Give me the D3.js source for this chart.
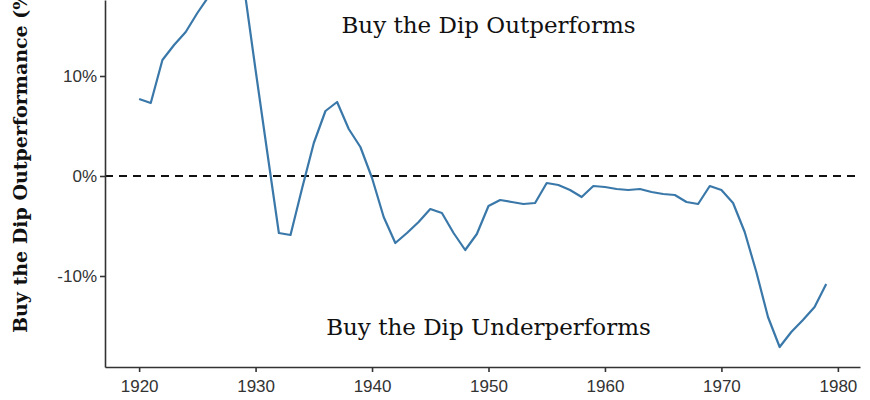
<!DOCTYPE html>
<html lang="en">
  <head>
    <meta charset="UTF-8" />
    <title>Buy the Dip</title>
    <style>
      body { margin: 0; background: #fff; }
      .tick text { font-family: "Liberation Sans", Arial, sans-serif; font-size: 17px; fill: #333; }
      .note { font-family: "DejaVu Serif", serif; font-size: 23px; fill: #111; }
      .ylab { font-family: "DejaVu Serif", serif; font-size: 19px; font-weight: bold; fill: #111; }
    </style>
  </head>
  <body>
    <script src="https://cdn.jsdelivr.net/npm/d3@7"></script>
    <script>
      // values (% outperformance by start year)
      const years = [1920, 1921, 1922, 1923, 1924, 1925, 1926, 1927, 1928, 1929,
                     1930, 1931, 1932, 1933, 1934, 1935, 1936, 1937, 1938, 1939,
                     1940, 1941, 1942, 1943, 1944, 1945, 1946, 1947, 1948, 1949,
                     1950, 1951, 1952, 1953, 1954, 1955, 1956, 1957, 1958, 1959,
                     1960, 1961, 1962, 1963, 1964, 1965, 1966, 1967, 1968, 1969,
                     1970, 1971, 1972, 1973, 1974, 1975, 1976, 1977, 1978, 1979];
      const outperf = [7.7, 7.3, 11.6, 13.1, 14.4, 16.3, 18.0, 20.5, 21.5, 19.0,
                       10.6, 2.4, -5.7, -5.9, -1.2, 3.3, 6.5, 7.4, 4.7, 2.9,
                       -0.2, -4.1, -6.7, -5.7, -4.6, -3.3, -3.7, -5.7, -7.4, -5.8,
                       -3.0, -2.4, -2.6, -2.8, -2.7, -0.7, -0.9, -1.4, -2.1, -1.0,
                       -1.1, -1.3, -1.4, -1.3, -1.6, -1.8, -1.9, -2.6, -2.8, -1.0,
                       -1.4, -2.7, -5.6, -9.6, -14.1, -17.1, -15.6, -14.4, -13.1, -10.8];
      const xTicks = [1920, 1930, 1940, 1950, 1960, 1970, 1980];
      const yTicks = [-10, 0, 10];
      const noteTop = "Buy the Dip Outperforms";
      const noteBottom = "Buy the Dip Underperforms";
      const yTitle = "Buy the Dip Outperformance (%)";

      const width = 870, height = 400;
      const left = 105, right = 860, bottom = 367;

      const svg = d3.select("body").append("svg")
        .attr("width", width)
        .attr("height", height);

      const x = d3.scaleLinear().domain([1917.07, 1981.9]).range([left, right]);
      const y = d3.scaleLinear().domain([-19.1, 17.6]).range([bottom, 0]);

      // zero reference line
      svg.append("line")
        .attr("x1", left).attr("x2", right)
        .attr("y1", y(0)).attr("y2", y(0))
        .attr("stroke", "#111")
        .attr("stroke-width", 2)
        .attr("stroke-dasharray", "8,6");

      const line = d3.line()
        .x((d, i) => x(years[i]))
        .y(d => y(d));

      svg.append("path")
        .datum(outperf)
        .attr("d", line)
        .attr("fill", "none")
        .attr("stroke", "#3a78a9")
        .attr("stroke-width", 2.2)
        .attr("stroke-linejoin", "round");

      const xAxis = svg.append("g")
        .attr("transform", `translate(0,${bottom})`)
        .call(d3.axisBottom(x).tickValues(xTicks).tickFormat(d3.format("d")).tickSize(5).tickSizeOuter(0));

      const yAxis = svg.append("g")
        .attr("transform", `translate(${left},0)`)
        .call(d3.axisLeft(y).tickValues(yTicks).tickFormat(d => d + "%").tickSize(5).tickSizeOuter(0));

      [xAxis, yAxis].forEach(g => {
        g.select(".domain").attr("stroke", "#333").attr("stroke-width", 1.6);
        g.selectAll(".tick line").attr("stroke", "#333").attr("stroke-width", 1.6);
      });
      xAxis.selectAll(".tick text").attr("dy", "1.0em");
      yAxis.selectAll(".tick text").attr("x", -8);

      svg.append("text")
        .attr("class", "note")
        .attr("x", x(1950)).attr("y", 33)
        .attr("text-anchor", "middle")
        .text(noteTop);

      svg.append("text")
        .attr("class", "note")
        .attr("x", x(1950)).attr("y", 335)
        .attr("text-anchor", "middle")
        .text(noteBottom);

      svg.append("text")
        .attr("class", "ylab")
        .attr("transform", "translate(27,333) rotate(-90)")
        .attr("text-anchor", "start")
        .text(yTitle);
    </script>
  </body>
</html>
